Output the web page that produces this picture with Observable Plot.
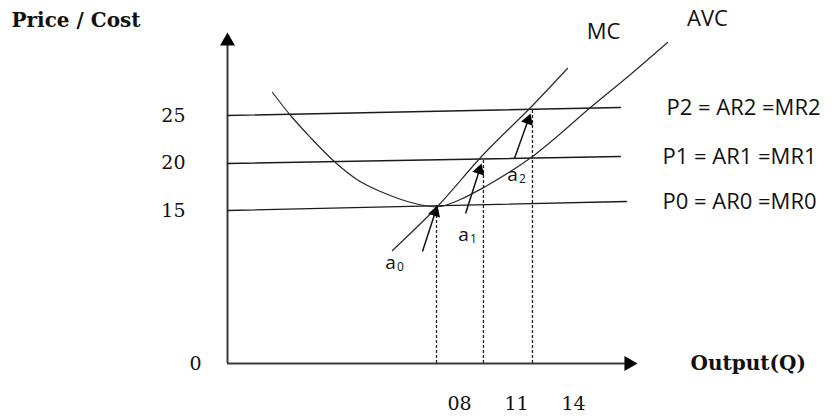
<!DOCTYPE html>
<html><head><meta charset="utf-8">
<script src="https://cdn.jsdelivr.net/npm/d3@7"></script>
<script src="https://cdn.jsdelivr.net/npm/@observablehq/plot@0.6"></script>
<style>html,body{margin:0;padding:0;background:#fff}#chart svg{display:block}</style>
</head><body><div id="chart"></div>
<script>
// ---------- data ----------
const titleText = "Price / Cost";
const xTitle = "Output(Q)";
const priceTicks = [15, 20, 25];
const priceTickLabels = ["15", "20", "25"];
const outputTicks = [8, 11, 14];
const outputTickLabels = ["08", "11", "14"];
const originLabel = "0";

// horizontal price lines (rise slightly to the right)
const priceLineNames = ["P0 = AR0 =MR0", "P1 = AR1 =MR1", "P2 = AR2 =MR2"];
const priceLineStartP = [15.0, 19.95, 25.0];
const priceLineEndP = [15.95, 20.68, 25.84];
const priceLineEndQ = [16.79, 16.47, 16.47];
const priceLineLabelQ = [18.68, 18.68, 18.89];

// AVC (U-shaped) curve
const avcQ = [-1.84, -0.89, 0.16, 1.47, 2.68, 3.84, 5.26, 6.47, 7.0, 8.05, 9.37, 10.68, 11.84, 13.32, 14.89, 17.0, 18.95];
const avcP = [27.42, 25.0, 22.68, 20.05, 18.16, 17.0, 15.95, 15.42, 15.42, 16.16, 17.53, 19.1, 20.68, 23.1, 25.84, 29.32, 32.68];
// MC curve
const mcQ = [4.47, 6.84, 9.21, 11.74, 13.68];
const mcP = [10.79, 15.42, 20.79, 25.84, 29.95];
const curveNames = ["MC", "AVC"];
const curveLabelQ = [15.58, 21.05];
const curveLabelP = [33.84, 35.21];

// equilibrium points a0, a1, a2 (dashed drop lines)
const eqSub = ["0", "1", "2"];
const eqQ = [6.79, 9.26, 11.84];
const eqP = [15.49, 20.43, 25.65];
// small arrows pointing at them
const arrowFromQ = [6.05, 8.32, 10.89];
const arrowFromP = [10.68, 14.68, 20.47];
const arrowToQ = [6.84, 9.16, 11.74];
const arrowToP = [15.53, 19.95, 25.21];
const eqLabelQ = [4.37, 8.21, 10.79];
const eqLabelP = [9.53, 12.47, 18.79];

// axes extent
const axisOriginQ = -4.21, axisOriginP = -1.1;
const axisEndQ = 17.37, axisEndP = 33.74;
const xTitleQ = 20.16;

// ---------- layout ----------
const W = 832, H = 417;
const xLo = -16.158, xHi = 27.632, yLo = -6.789, yHi = 37.105;
const KX = W / (xHi - xLo), KY = H / (yHi - yLo);
const SERIF = "DejaVu Serif", SANS = "'Open Sans', 'DejaVu Sans', sans-serif";
const R_AXIS = 5.6, R_SMALL = 4.6;

// arrowhead (triangle dot) placement: centroid pulled back from tip
function head(q1, p1, q2, p2, r) {
  const dx = (q2 - q1) * KX, dy = -(p2 - p1) * KY;
  const L = Math.hypot(dx, dy), ux = dx / L, uy = dy / L;
  const off = 1.555 * r;
  return {q: q2 - ux * off / KX, p: p2 + uy * off / KY, angle: Math.atan2(dx, -dy) * 180 / Math.PI};
}

const priceLines = priceLineNames.map((name, i) => [
  {name, q: axisOriginQ, p: priceLineStartP[i]},
  {name, q: priceLineEndQ[i], p: priceLineEndP[i]}
]).flat();
const priceLabels = priceLineNames.map((name, i) => ({name, q: priceLineLabelQ[i], p: priceLineEndP[i]}));
const avc = avcQ.map((q, i) => ({q, p: avcP[i]}));
const mc = mcQ.map((q, i) => ({q, p: mcP[i]}));
const drops = eqQ.map((q, i) => ({q, p: eqP[i]}));
const smallHeads = arrowToQ.map((q, i) => head(arrowFromQ[i], arrowFromP[i], q, arrowToP[i], R_SMALL));
const arrows = arrowFromQ.map((q, i) => ({q1: q, p1: arrowFromP[i], q2: smallHeads[i].q, p2: smallHeads[i].p}));
const axisHeads = [
  head(axisOriginQ, axisOriginP, axisOriginQ, axisEndP, R_AXIS),
  head(axisOriginQ, axisOriginP, axisEndQ, axisOriginP, R_AXIS)
];
const eqLabels = eqSub.map((s, i) => ({s, q: eqLabelQ[i], p: eqLabelP[i]}));
const curveLabels = curveNames.map((n, i) => ({n, q: curveLabelQ[i], p: curveLabelP[i]}));

const chart = Plot.plot({
  width: W, height: H,
  marginTop: 0, marginRight: 0, marginBottom: 0, marginLeft: 0,
  x: {domain: [xLo, xHi], axis: null},
  y: {domain: [yLo, yHi], axis: null},
  style: {background: "#fff", overflow: "visible"},
  marks: [
    // axes
    Plot.ruleX([axisOriginQ], {y1: axisOriginP, y2: axisHeads[0].p, stroke: "#3a3a3a", strokeWidth: 2}),
    Plot.ruleY([axisOriginP], {x1: axisOriginQ, x2: axisHeads[1].q, stroke: "#3a3a3a", strokeWidth: 2}),
    Plot.dot(axisHeads, {x: "q", y: "p", symbol: "triangle", r: R_AXIS, rotate: "angle", fill: "#000", stroke: null}),
    // dashed drop lines
    Plot.ruleX(drops, {x: "q", y1: axisOriginP, y2: "p", stroke: "#222", strokeWidth: 1.3, strokeDasharray: "3,2"}),
    // price lines
    Plot.line(priceLines, {x: "q", y: "p", z: "name", stroke: "#1a1a1a", strokeWidth: 1.4}),
    // AVC and MC
    Plot.line(avc, {x: "q", y: "p", curve: "catmull-rom", stroke: "#2a2a2a", strokeWidth: 1.2}),
    Plot.line(mc, {x: "q", y: "p", curve: "catmull-rom", stroke: "#2a2a2a", strokeWidth: 1.2}),
    // small arrows
    Plot.link(arrows, {x1: "q1", y1: "p1", x2: "q2", y2: "p2", stroke: "#111", strokeWidth: 1.5}),
    Plot.dot(smallHeads, {x: "q", y: "p", symbol: "triangle", r: R_SMALL, rotate: "angle", fill: "#000", stroke: null}),
    // tick labels
    Plot.text(priceTicks, {x: () => axisOriginQ, y: d => d, text: (d, i) => priceTickLabels[i], textAnchor: "end", dx: -42, fontFamily: SERIF, fontSize: 19, fill: "#111"}),
    Plot.text(outputTicks, {x: d => d, y: () => axisOriginP, dy: 40, text: (d, i) => outputTickLabels[i], fontFamily: SERIF, fontSize: 19, fill: "#111"}),
    Plot.text([originLabel], {x: () => axisOriginQ, y: () => axisOriginP, dx: -32, text: d => d, fontFamily: SERIF, fontSize: 19, fill: "#111"}),
    Plot.text([xTitle], {x: () => xTitleQ, y: () => axisOriginP, text: d => d, textAnchor: "start", fontFamily: SERIF, fontWeight: "bold", fontSize: 20, fill: "#111"}),
    Plot.text([titleText], {frameAnchor: "top-left", dx: 11, dy: 20, text: d => d, textAnchor: "start", lineAnchor: "middle", fontFamily: SERIF, fontWeight: "bold", fontSize: 20, fill: "#111"}),
    // price line labels
    Plot.text(priceLabels, {x: "q", y: "p", text: "name", textAnchor: "start", fontFamily: SANS, fontSize: 22, fill: "#111"}),
    // curve labels
    Plot.text(curveLabels, {x: "q", y: "p", text: "n", fontFamily: SANS, fontSize: 22, fill: "#111"}),
    // a0, a1, a2
    Plot.text(eqLabels, {x: "q", y: "p", text: () => "a", fontFamily: SANS, fontSize: 19, fill: "#111"}),
    Plot.text(eqLabels, {x: "q", y: "p", text: "s", dx: 10, dy: 5, fontFamily: SANS, fontSize: 12, fill: "#111"})
  ]
});
document.getElementById("chart").appendChild(chart);
</script>
</body></html>
